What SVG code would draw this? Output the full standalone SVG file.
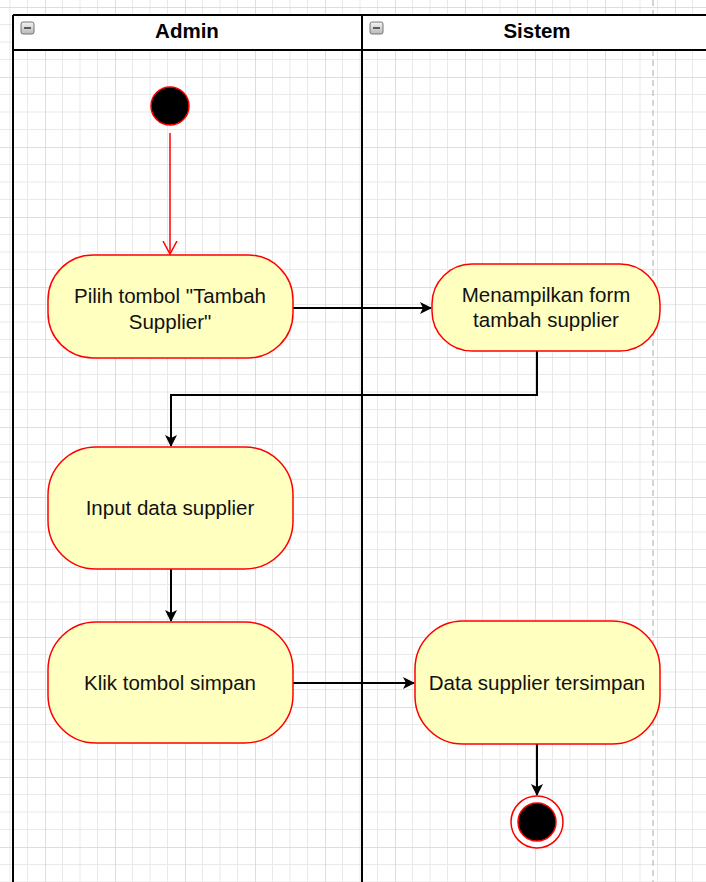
<svg xmlns="http://www.w3.org/2000/svg" width="706" height="882" viewBox="0 0 706 882">
<style>
.act{fill:#ffffc0;stroke:#ff0000;stroke-width:1.5}
.t{font-family:"Liberation Sans",Arial,sans-serif;font-size:20.5px;fill:#111;text-anchor:middle}
.h{font-family:"Liberation Sans",Arial,sans-serif;font-size:20.5px;font-weight:bold;fill:#000;text-anchor:middle}
.c{fill:none;stroke:#000;stroke-width:2}
.lane{fill:none;stroke:#000;stroke-width:2}
</style>
<defs>
<pattern id="grid" width="70" height="70" patternUnits="userSpaceOnUse" patternTransform="translate(45,7)">
<path d="M17.5 0V70M35 0V70M52.5 0V70M0 17.5H70M0 35H70M0 52.5H70" stroke="#e9e9e9" stroke-width="1" fill="none"/>
<path d="M0 0V70M0 0H70" stroke="#d4d4d4" stroke-width="1.5" fill="none"/>
</pattern>
<linearGradient id="ig" x1="0" y1="0" x2="0" y2="1"><stop offset="0" stop-color="#f4f4f4"/><stop offset="1" stop-color="#b8b8b8"/></linearGradient>
<marker id="blk" viewBox="0 0 12 12" refX="11" refY="6" markerWidth="12" markerHeight="12" markerUnits="userSpaceOnUse" orient="auto">
<path d="M0 0L12 6L0 12L3 6Z" fill="#000"/>
</marker>
<marker id="open" viewBox="0 0 14 16" refX="13" refY="8" markerWidth="14" markerHeight="16" markerUnits="userSpaceOnUse" orient="auto">
<path d="M0 1L13 8L0 15" fill="none" stroke="#ff0000" stroke-width="1.5"/>
</marker>
</defs>
<rect width="706" height="882" fill="#fff"/>
<rect width="706" height="882" fill="url(#grid)"/>
<line x1="653" y1="0" x2="653" y2="882" stroke="#c8c8c8" stroke-width="1.5" stroke-dasharray="6,4"/>
<g id="lanes">
<rect x="13" y="15" width="700" height="35" fill="#fff"/>
<line x1="13" y1="15" x2="706" y2="15" class="lane"/>
<line x1="13" y1="50" x2="706" y2="50" class="lane"/>
<line x1="13" y1="15" x2="13" y2="882" class="lane"/>
<line x1="362" y1="15" x2="362" y2="882" class="lane"/>
<g id="icon-admin"><rect x="21" y="22" width="13" height="12" rx="2" fill="url(#ig)" stroke="#777" stroke-width="1"/><line x1="24" y1="28" x2="31" y2="28" stroke="#333" stroke-width="1.5"/></g>
<g id="icon-sistem"><rect x="370" y="22" width="13" height="12" rx="2" fill="url(#ig)" stroke="#777" stroke-width="1"/><line x1="373" y1="28" x2="380" y2="28" stroke="#333" stroke-width="1.5"/></g>
<text class="h" x="187" y="38">Admin</text>
<text class="h" x="537" y="38">Sistem</text>
</g>
<g id="connectors">
<line x1="170" y1="133" x2="170" y2="254" stroke="#ff0000" stroke-width="1.5" marker-end="url(#open)"/>
<line x1="293" y1="308" x2="431" y2="308" class="c" marker-end="url(#blk)"/>
<polyline points="537,351 537,395 171,395 171,446" class="c" marker-end="url(#blk)"/>
<line x1="171" y1="569" x2="171" y2="621" class="c" marker-end="url(#blk)"/>
<line x1="293" y1="683" x2="414" y2="683" class="c" marker-end="url(#blk)"/>
<line x1="537" y1="744" x2="537" y2="795" class="c" marker-end="url(#blk)"/>
</g>
<g id="start"><circle cx="170" cy="106" r="19" fill="#000" stroke="#ff0000" stroke-width="1.5"/></g>
<g id="pilih">
<rect class="act" x="48" y="255" width="245" height="103" rx="45" ry="45"/>
<text class="t" x="170" y="303">Pilih tombol "Tambah</text>
<text class="t" x="170" y="329">Supplier"</text>
</g>
<g id="menampilkan">
<rect class="act" x="432" y="264" width="228" height="87" rx="40" ry="40"/>
<text class="t" x="546" y="302">Menampilkan form</text>
<text class="t" x="546" y="327">tambah supplier</text>
</g>
<g id="input">
<rect class="act" x="48" y="447" width="245" height="122" rx="48" ry="48"/>
<text class="t" x="170" y="515">Input data supplier</text>
</g>
<g id="klik">
<rect class="act" x="48" y="622" width="245" height="121" rx="48" ry="48"/>
<text class="t" x="170" y="690">Klik tombol simpan</text>
</g>
<g id="tersimpan">
<rect class="act" x="415" y="621" width="245" height="123" rx="48" ry="48"/>
<text class="t" x="537" y="690">Data supplier tersimpan</text>
</g>
<g id="end">
<circle cx="537" cy="822" r="26" fill="#fff" stroke="#ff0000" stroke-width="1.5"/>
<circle cx="537" cy="822" r="19" fill="#000" stroke="#ff0000" stroke-width="1.5"/>
</g>
</svg>
